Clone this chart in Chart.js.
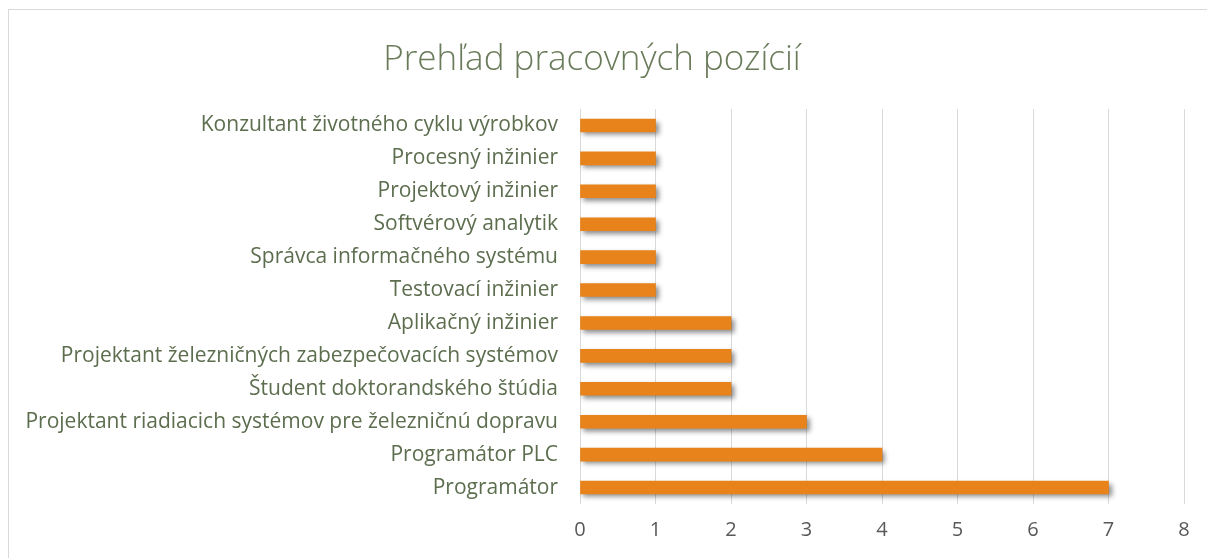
<!DOCTYPE html>
<html>
<head>
<meta charset="utf-8">
<script src="https://cdn.jsdelivr.net/npm/chart.js@4"></script>
<style>
  html, body { margin: 0; padding: 0; background: #fff; }
  #wrap { position: relative; width: 1207px; height: 558px; overflow: hidden; }
  #frame { position: absolute; left: 8px; top: 9px; width: 1205px; height: 560px; border: 1px solid #d9d9d9; }
  #cv { position: absolute; left: 0; top: 0; }
</style>
</head>
<body>
<div id="wrap">
  <div id="frame"></div>
  <canvas id="cv" width="1207" height="558"></canvas>
</div>
<script>
let positions = ['Konzultant životného cyklu výrobkov',
'Procesný inžinier',
'Projektový inžinier',
'Softvérový analytik',
'Správca informačného systému',
'Testovací inžinier',
'Aplikačný inžinier',
'Projektant železničných zabezpečovacích systémov',
'Študent doktorandského štúdia',
'Projektant riadiacich systémov pre železničnú dopravu',
'Programátor PLC',
'Programátor'];

let counts = [1, 1, 1, 1, 1, 1, 2, 2, 2, 3, 4, 7];

const titleText = 'Prehľad pracovných pozícií';
const barColor = '#E7831A';

// drop shadow under the bars, like the office chart
const barShadow = {
    id: 'barShadow',
    beforeDatasetsDraw(chart) {
        const ctx = chart.ctx;
        ctx.save();
        ctx.shadowColor = 'rgba(0,0,0,0.45)';
        ctx.shadowBlur = 5;
        ctx.shadowOffsetX = 3;
        ctx.shadowOffsetY = 3;
    },
    afterDatasetsDraw(chart) {
        chart.ctx.restore();
    }
};

let chartElement = document.getElementById('cv').getContext('2d');

let myChart = new Chart(chartElement, {
    type: 'bar',
    data: {
        labels: positions,
        datasets: [{
            data: counts,
            backgroundColor: barColor,
            borderWidth: 0,
            barThickness: 13
        }]
    },
    plugins: [barShadow],
    options: {
        indexAxis: 'y',
        responsive: false,
        animation: false,
        layout: { padding: { top: 39, right: 23, bottom: 0, left: 0 } },
        plugins: {
            legend: { display: false },
            tooltip: { enabled: false },
            title: {
                display: true,
                text: titleText,
                color: '#6a7b5a',
                font: { family: 'Open Sans', size: 35, weight: '300', lineHeight: 1.2 },
                padding: { top: 0, bottom: 28 }
            }
        },
        scales: {
            x: {
                min: 0,
                max: 8,
                ticks: {
                    stepSize: 1,
                    color: '#595959',
                    font: { family: 'Open Sans', size: 20 },
                    padding: 14
                },
                grid: { color: '#d9d9d9', lineWidth: 1, drawTicks: false },
                border: { display: false },
                afterFit: function(scale) { scale.height = 54; }
            },
            y: {
                ticks: {
                    color: '#5d6e4f',
                    font: { family: 'Open Sans', size: 21 },
                    padding: 14,
                    autoSkip: false
                },
                grid: { display: false },
                border: { display: false },
                afterFit: function(scale) { scale.width = 580; }
            }
        }
    }
});
</script>
</body>
</html>
